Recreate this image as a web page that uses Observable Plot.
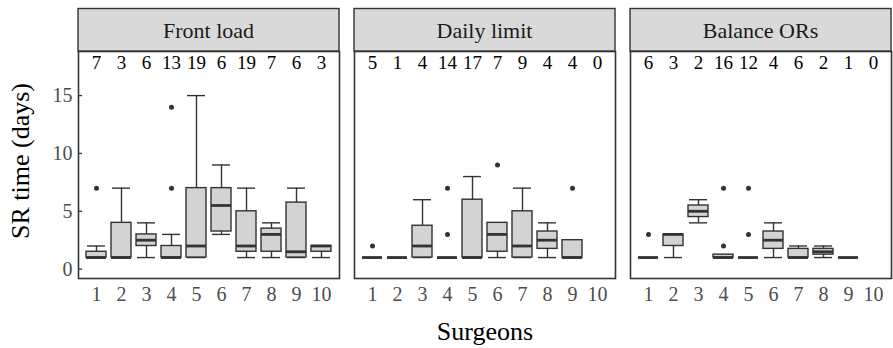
<!DOCTYPE html>
<html>
<head>
<meta charset="utf-8">
<script src="https://cdn.jsdelivr.net/npm/d3@7"></script>
<script src="https://cdn.jsdelivr.net/npm/@observablehq/plot@0.6"></script>
<style>
  body { margin: 0; background: #fff; }
  #chart svg { display: block; }
</style>
</head>
<body>
<div id="chart"></div>
<script>
// ---- Data ----
const facets = ["Front load", "Daily limit", "Balance ORs"];
const surgeons = [1, 2, 3, 4, 5, 6, 7, 8, 9, 10];
const yTicks = [0, 5, 10, 15];

const countsFront = [7, 3, 6, 13, 19, 6, 19, 7, 6, 3];
const countsDaily = [5, 1, 4, 14, 17, 7, 9, 4, 4, 0];
const countsBalance = [6, 3, 2, 16, 12, 4, 6, 2, 1, 0];

// box stats: lower whisker, q1, median, q3, upper whisker
const loFront  = [1, 1, 1, 1, 1, 3, 1, 1, 1, 1];
const q1Front  = [1, 1, 2, 1, 1, 3.25, 1.5, 1.5, 1, 1.5];
const medFront = [1, 1, 2.5, 1, 2, 5.5, 2, 3, 1.5, 2];
const q3Front  = [1.5, 4, 3, 2, 7, 7, 5, 3.5, 5.75, 2];
const hiFront  = [2, 7, 4, 3, 15, 9, 7, 4, 7, 2];

const loDaily  = [1, 1, 1, 1, 1, 1, 1, 1, 1, null];
const q1Daily  = [1, 1, 1, 1, 1, 1.5, 1, 1.75, 1, null];
const medDaily = [1, 1, 2, 1, 1, 3, 2, 2.5, 1, null];
const q3Daily  = [1, 1, 3.75, 1, 6, 4, 5, 3.25, 2.5, null];
const hiDaily  = [1, 1, 6, 1, 8, 4, 7, 4, 2.5, null];

const loBalance  = [1, 1, 4, 1, 1, 1, 1, 1, 1, null];
const q1Balance  = [1, 2, 4.5, 1, 1, 1.75, 1, 1.25, 1, null];
const medBalance = [1, 3, 5, 1, 1, 2.5, 1, 1.5, 1, null];
const q3Balance  = [1, 3, 5.5, 1.25, 1, 3.25, 1.75, 1.75, 1, null];
const hiBalance  = [1, 3, 6, 1.25, 1, 4, 2, 2, 1, null];

// outliers: [surgeon, value]
const outFront   = [[1, 7], [4, 7], [4, 14]];
const outDaily   = [[1, 2], [4, 3], [4, 7], [6, 9], [9, 7]];
const outBalance = [[1, 3], [4, 2], [4, 7], [5, 3], [5, 7]];

// ---- Build tables ----
const stats = [
  [loFront, q1Front, medFront, q3Front, hiFront],
  [loDaily, q1Daily, medDaily, q3Daily, hiDaily],
  [loBalance, q1Balance, medBalance, q3Balance, hiBalance]
];
const countsAll = [countsFront, countsDaily, countsBalance];
const outAll = [outFront, outDaily, outBalance];

const boxes = [];
const counts = [];
const outliers = [];
facets.forEach((f, i) => {
  const [lo, q1, med, q3, hi] = stats[i];
  surgeons.forEach((s, j) => {
    counts.push({facet: f, surgeon: s, n: countsAll[i][j]});
    if (lo[j] != null) boxes.push({facet: f, surgeon: s, lo: lo[j], q1: q1[j], med: med[j], q3: q3[j], hi: hi[j]});
  });
  outAll[i].forEach(([s, v]) => outliers.push({facet: f, surgeon: s, value: v}));
});

const dark = "#333333";
const font = "'Liberation Serif', 'Times New Roman', serif";

const chart = Plot.plot({
  width: 893,
  height: 348,
  marginLeft: 78,
  marginRight: 1,
  marginTop: 51,
  marginBottom: 70,
  style: {fontFamily: font, background: "#fff"},
  fx: {domain: facets, paddingInner: 15 / 277, paddingOuter: 0, axis: null, label: null},
  x: {type: "band", domain: surgeons, paddingInner: 0.22, paddingOuter: 0.21, label: null},
  y: {domain: [-0.81, 18.81], label: null},
  marks: [
    Plot.axisX({tickSize: 0, tickPadding: 8, fontSize: 20, fill: "#4d4d4d", label: null}),
    Plot.axisY({ticks: yTicks, tickSize: 0, tickPadding: 6, fontSize: 20, fill: "#4d4d4d", label: null}),
    Plot.axisY({ticks: yTicks, tickSize: 4, dx: 4, stroke: dark, strokeWidth: 1.3, tickFormat: () => "", label: null}),
    Plot.ruleX(boxes, {fx: "facet", x: "surgeon", y1: "lo", y2: "hi", stroke: dark, strokeWidth: 1.4}),
    Plot.tickY(boxes, {fx: "facet", x: "surgeon", y: "lo", stroke: dark, strokeWidth: 1.4, insetLeft: 1, insetRight: 1}),
    Plot.tickY(boxes, {fx: "facet", x: "surgeon", y: "hi", stroke: dark, strokeWidth: 1.4, insetLeft: 1, insetRight: 1}),
    Plot.barY(boxes, {fx: "facet", x: "surgeon", y1: "q1", y2: "q3", fill: "#d3d3d3", stroke: dark, strokeWidth: 1.4}),
    Plot.tickY(boxes, {fx: "facet", x: "surgeon", y: "med", stroke: dark, strokeWidth: 2.8}),
    Plot.dot(outliers, {fx: "facet", x: "surgeon", y: "value", r: 2.5, fill: dark, stroke: "none"}),
    Plot.text(counts, {fx: "facet", x: "surgeon", text: "n", frameAnchor: "top", lineAnchor: "middle", dy: 11, fontSize: 19, fill: "#000"}),
    Plot.frame({stroke: dark, strokeWidth: 1.6})
  ]
});

document.getElementById("chart").appendChild(chart);

// ---- Strips, axis titles ----
const svg = d3.select(chart);
const fx = chart.scale("fx");
facets.forEach(f => {
  const x0 = fx.apply(f);
  svg.append("rect")
    .attr("x", x0).attr("y", 8.5)
    .attr("width", fx.bandwidth).attr("height", 42.5)
    .attr("fill", "#d9d9d9").attr("stroke", dark).attr("stroke-width", 1.4);
  svg.append("text")
    .attr("x", x0 + fx.bandwidth / 2).attr("y", 30)
    .attr("text-anchor", "middle").attr("dominant-baseline", "central")
    .attr("font-family", font).attr("font-size", 22).attr("fill", "#1a1a1a")
    .text(f);
});
const [r0, r1] = fx.range;
svg.append("text")
  .attr("x", (r0 + r1) / 2).attr("y", 340)
  .attr("text-anchor", "middle")
  .attr("font-family", font).attr("font-size", 26).attr("fill", "#000")
  .text("Surgeons");
svg.append("text")
  .attr("transform", `translate(20,${chart.scale("y").apply(9.3)}) rotate(-90)`)
  .attr("text-anchor", "middle").attr("dominant-baseline", "central")
  .attr("font-family", font).attr("font-size", 26).attr("fill", "#000")
  .text("SR time (days)");
</script>
</body>
</html>
